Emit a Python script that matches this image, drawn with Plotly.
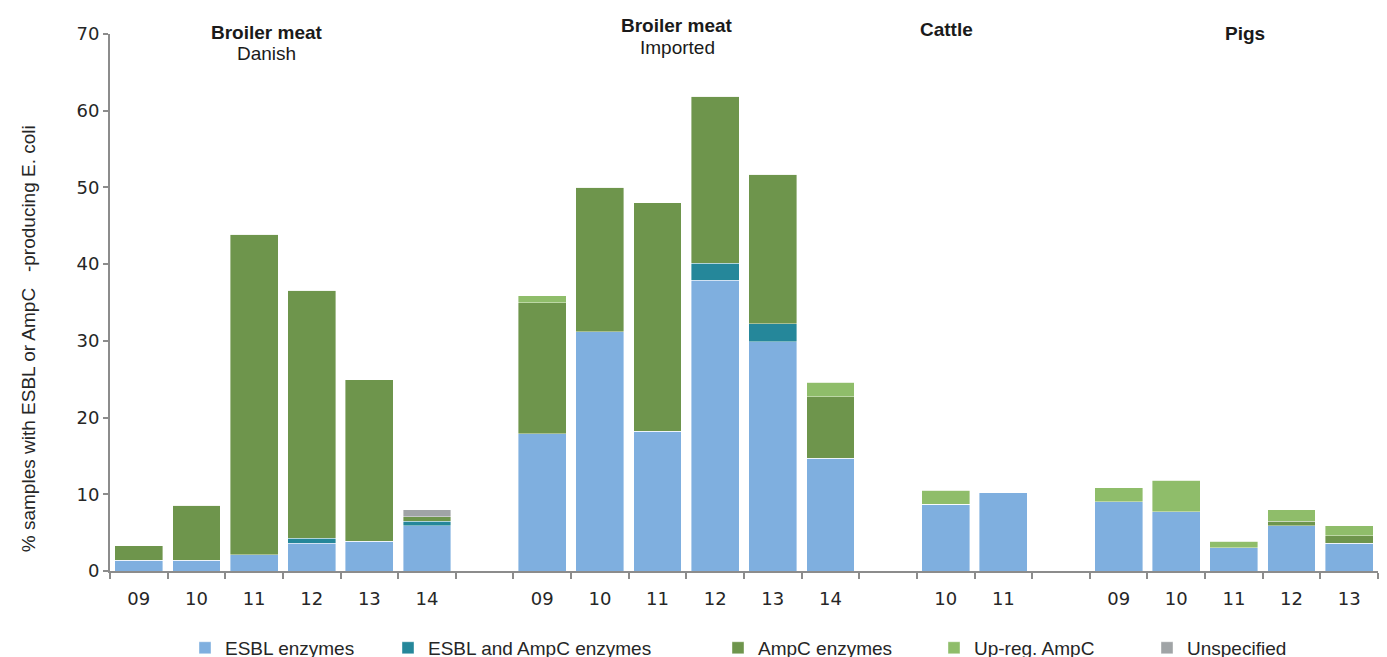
import plotly.graph_objects as go

# ---- data ----
categories = ["D09", "D10", "D11", "D12", "D13", "D14", "gap1",
              "I09", "I10", "I11", "I12", "I13", "I14", "gap2",
              "C10", "C11", "gap3",
              "P09", "P10", "P11", "P12", "P13"]
tick_labels = ["09", "10", "11", "12", "13", "14", "",
               "09", "10", "11", "12", "13", "14", "",
               "10", "11", "",
               "09", "10", "11", "12", "13"]

esbl = [1.4, 1.4, 2.1, 3.6, 3.9, 5.9, None,
        17.9, 31.2, 18.2, 37.9, 29.9, 14.7, None,
        8.7, 10.2, None,
        9.0, 7.7, 3.0, 5.9, 3.6]
esbl_ampc = [0, 0, 0, 0.7, 0, 0.6, None,
             0, 0, 0, 2.2, 2.3, 0, None,
             0, 0, None,
             0, 0, 0, 0, 0]
ampc = [1.9, 7.2, 41.8, 32.3, 21.0, 0.6, None,
        17.1, 18.8, 29.8, 21.8, 19.5, 8.0, None,
        0, 0, None,
        0, 0, 0, 0.6, 1.0]
upreg = [0, 0, 0, 0, 0, 0, None,
         0.9, 0, 0, 0, 0, 1.9, None,
         1.8, 0, None,
         1.85, 4.1, 0.9, 1.5, 1.3]
unspecified = [0, 0, 0, 0, 0, 0.9, None,
               0, 0, 0, 0, 0, 0, None,
               0, 0, None,
               0, 0, 0, 0, 0]

series_names = ["ESBL enzymes", "ESBL and AmpC enzymes", "AmpC enzymes",
                "Up-reg. AmpC", "Unspecified"]
series_values = [esbl, esbl_ampc, ampc, upreg, unspecified]
series_colors = ["#7fafdf", "#25879a", "#6e954c", "#8fbd6a", "#a0a4a6"]

# group titles: (text, x position in category index units, screen y px)
group_titles = [
    ("<b>Broiler meat</b>", 2.22, 32),
    ("Danish", 2.22, 53),
    ("<b>Broiler meat</b>", 9.34, 25),
    ("Imported", 9.34, 47),
    ("<b>Cattle</b>", 14.02, 29),
    ("<b>Pigs</b>", 19.19, 33),
]

TXT = "Liberation Sans, Arial, sans-serif"
REG = "DejaVu Sans, Verdana, sans-serif"

W, H = 1387, 657
ml, mr, mt, mb = 102, 17, 25.5, 94
pw = W - ml - mr
ph = H - mt - mb
OFF = 8  # body margin of the html page

fig = go.Figure()
legend_fig_x = [177, 380, 710, 926, 1139]

for i, (name, vals, col) in enumerate(zip(series_names, series_values, series_colors)):
    fig.add_trace(go.Bar(
        x=categories, y=vals, name=name,
        marker=dict(color=col, line=dict(color="rgba(255,255,255,0.5)", width=0.8)),
        legend=f"legend{i+2}",
    ))

layout_legends = {}
for i, px in enumerate(legend_fig_x):
    layout_legends[f"legend{i+2}"] = dict(
        x=(px - ml) / pw, y=(mt + ph - (648 - OFF)) / ph,
        xanchor="left", yanchor="middle",
        orientation="h", bgcolor="rgba(0,0,0,0)",
        font=dict(family=TXT, size=19, color="#262626"),
        itemwidth=30,
    )

for text, xv, sy in group_titles:
    fig.add_annotation(x=xv, y=(mt + ph - (sy - OFF)) / ph, xref="x", yref="paper",
                       text=text, showarrow=False,
                       font=dict(family=TXT, size=19, color="#1a1a1a"),
                       xanchor="center", yanchor="middle")

# y-axis title
fig.add_annotation(x=(28 - OFF - ml) / pw, y=(mt + ph - (339 - OFF)) / ph,
                   xref="paper", yref="paper", textangle=-90,
                   text="% samples with ESBL or AmpC   -producing E. coli",
                   showarrow=False, font=dict(family=TXT, size=19, color="#262626"),
                   xanchor="center", yanchor="middle")

fig.update_layout(
    width=W, height=H,
    margin=dict(l=ml, r=mr, t=mt, b=mb, autoexpand=False),
    barmode="stack", bargap=0.17,
    plot_bgcolor="white", paper_bgcolor="white",
    showlegend=True,
    **layout_legends,
)

fig.update_xaxes(
    type="category", categoryorder="array", categoryarray=categories,
    tickmode="array", tickvals=categories, ticktext=tick_labels,
    tickson="boundaries", ticks="outside", ticklen=6, tickcolor="#8c8c8c", tickwidth=1.5,
    showline=True, linecolor="#8c8c8c", linewidth=2, showgrid=False,
    tickfont=dict(family=REG, size=18, color="#262626"),
    ticklabelstandoff=10,
    range=[-0.5, len(categories) - 0.5], automargin=False,
)
fig.update_yaxes(
    range=[0, 70], tickvals=[0, 10, 20, 30, 40, 50, 60, 70],
    ticks="outside", ticklen=5, tickcolor="#8c8c8c", tickwidth=1.5,
    showline=True, linecolor="#8c8c8c", linewidth=2, showgrid=False, zeroline=False,
    tickfont=dict(family=REG, size=18, color="#262626"),
    automargin=False,
)

fig.write_html("out.html")
